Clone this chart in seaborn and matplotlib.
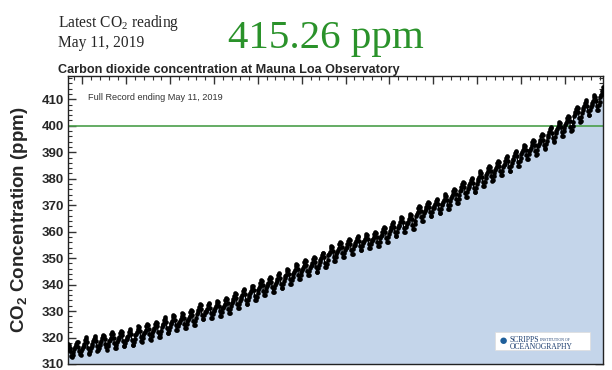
import numpy as np
import pandas as pd
import matplotlib
matplotlib.use("Agg")
import matplotlib.pyplot as plt
import seaborn as sns
from matplotlib.ticker import MultipleLocator
from matplotlib.patches import Rectangle

# Monthly CO2 (ppm), Mauna Loa record
start_month = "1958-03"
co2_1950s = [315.71, 317.45, 317.50, 317.10, 315.86, 314.93, 313.20, 312.66, 313.33, 314.67,
             315.62, 316.38, 316.71, 317.72, 318.29, 318.15, 316.54, 314.80, 313.84, 313.26, 314.80, 315.58]
co2_1960s = [316.43, 316.97, 317.58, 319.02, 320.03, 319.59, 318.18, 315.91, 314.16, 313.83, 315.00, 316.19,
             316.93, 317.70, 318.54, 319.48, 320.58, 319.77, 318.57, 316.79, 314.80, 315.38, 316.10, 317.01,
             317.94, 318.56, 319.68, 320.63, 321.01, 320.55, 319.58, 317.40, 316.26, 315.42, 316.69, 317.69,
             318.74, 319.07, 319.86, 321.38, 322.25, 321.48, 319.74, 317.77, 316.21, 315.99, 317.12, 318.31,
             319.12, 319.67, 320.27, 321.62, 322.62, 322.17, 320.77, 318.62, 316.87, 316.62, 317.92, 319.07,
             319.54, 320.09, 320.69, 322.04, 323.04, 322.59, 321.19, 319.04, 317.29, 317.04, 318.34, 319.49,
             320.87, 321.42, 322.02, 323.37, 324.37, 323.92, 322.52, 320.37, 318.62, 318.37, 319.67, 320.82,
             321.68, 322.23, 322.83, 324.18, 325.18, 324.73, 323.33, 321.18, 319.43, 319.18, 320.48, 321.63,
             322.55, 323.10, 323.70, 325.05, 326.05, 325.60, 324.20, 322.05, 320.30, 320.05, 321.35, 322.50,
             324.12, 324.67, 325.27, 326.62, 327.62, 327.17, 325.77, 323.62, 321.87, 321.62, 322.92, 324.07]
co2_1970s = [324.98, 325.63, 326.33, 327.68, 328.48, 328.13, 326.63, 324.58, 322.88, 322.83, 324.33, 325.58,
             325.62, 326.27, 326.97, 328.32, 329.12, 328.77, 327.27, 325.22, 323.52, 323.47, 324.97, 326.22,
             326.76, 327.41, 328.11, 329.46, 330.26, 329.91, 328.41, 326.36, 324.66, 324.61, 326.11, 327.36,
             328.98, 329.63, 330.33, 331.68, 332.48, 332.13, 330.63, 328.58, 326.88, 326.83, 328.33, 329.58,
             329.49, 330.14, 330.84, 332.19, 332.99, 332.64, 331.14, 329.09, 327.39, 327.34, 328.84, 330.09,
             330.42, 331.07, 331.77, 333.12, 333.92, 333.57, 332.07, 330.02, 328.32, 328.27, 329.77, 331.02,
             331.33, 331.98, 332.68, 334.03, 334.83, 334.48, 332.98, 330.93, 329.23, 329.18, 330.68, 331.93,
             333.14, 333.79, 334.49, 335.84, 336.64, 336.29, 334.79, 332.74, 331.04, 330.99, 332.49, 333.74,
             334.71, 335.36, 336.06, 337.41, 338.21, 337.86, 336.36, 334.31, 332.61, 332.56, 334.06, 335.31,
             336.14, 336.79, 337.49, 338.84, 339.64, 339.29, 337.79, 335.74, 334.04, 333.99, 335.49, 336.74]
co2_1980s = [338.06, 338.71, 339.41, 340.76, 341.56, 341.21, 339.71, 337.66, 335.96, 335.91, 337.41, 338.66,
             339.42, 340.07, 340.77, 342.12, 342.92, 342.57, 341.07, 339.02, 337.32, 337.27, 338.77, 340.02,
             340.78, 341.43, 342.13, 343.48, 344.28, 343.93, 342.43, 340.38, 338.68, 338.63, 340.13, 341.38,
             342.45, 343.10, 343.80, 345.15, 345.95, 345.60, 344.10, 342.05, 340.35, 340.30, 341.80, 343.05,
             344.17, 344.82, 345.52, 346.87, 347.67, 347.32, 345.82, 343.77, 342.07, 342.02, 343.52, 344.77,
             345.65, 346.30, 347.00, 348.35, 349.15, 348.80, 347.30, 345.25, 343.55, 343.50, 345.00, 346.25,
             346.91, 347.56, 348.26, 349.61, 350.41, 350.06, 348.56, 346.51, 344.81, 344.76, 346.26, 347.51,
             348.61, 349.26, 349.96, 351.31, 352.11, 351.76, 350.26, 348.21, 346.51, 346.46, 347.96, 349.21,
             350.99, 351.64, 352.34, 353.69, 354.49, 354.14, 352.64, 350.59, 348.89, 348.84, 350.34, 351.59,
             352.50, 353.15, 353.85, 355.20, 356.00, 355.65, 354.15, 352.10, 350.40, 350.35, 351.85, 353.10]
co2_1990s = [353.70, 354.35, 355.20, 356.45, 357.20, 356.75, 355.25, 353.20, 351.65, 351.70, 353.35, 354.70,
             354.95, 355.60, 356.45, 357.70, 358.45, 358.00, 356.50, 354.45, 352.90, 352.95, 354.60, 355.95,
             355.79, 356.44, 357.29, 358.54, 359.29, 358.84, 357.34, 355.29, 353.74, 353.79, 355.44, 356.79,
             356.46, 357.11, 357.96, 359.21, 359.96, 359.51, 358.01, 355.96, 354.41, 354.46, 356.11, 357.46,
             358.21, 358.86, 359.71, 360.96, 361.71, 361.26, 359.76, 357.71, 356.16, 356.21, 357.86, 359.21,
             360.22, 360.87, 361.72, 362.97, 363.72, 363.27, 361.77, 359.72, 358.17, 358.22, 359.87, 361.22,
             361.99, 362.64, 363.49, 364.74, 365.49, 365.04, 363.54, 361.49, 359.94, 359.99, 361.64, 362.99,
             363.13, 363.78, 364.63, 365.88, 366.63, 366.18, 364.68, 362.63, 361.08, 361.13, 362.78, 364.13,
             366.09, 366.74, 367.59, 368.84, 369.59, 369.14, 367.64, 365.59, 364.04, 364.09, 365.74, 367.09,
             367.79, 368.44, 369.29, 370.54, 371.29, 370.84, 369.34, 367.29, 365.74, 365.79, 367.44, 368.79]
co2_2000s = [368.96, 369.61, 370.46, 371.71, 372.46, 372.01, 370.51, 368.46, 366.91, 366.96, 368.61, 369.96,
             370.57, 371.22, 372.07, 373.32, 374.07, 373.62, 372.12, 370.07, 368.52, 368.57, 370.22, 371.57,
             372.70, 373.35, 374.20, 375.45, 376.20, 375.75, 374.25, 372.20, 370.65, 370.70, 372.35, 373.70,
             375.23, 375.88, 376.73, 377.98, 378.73, 378.28, 376.78, 374.73, 373.18, 373.23, 374.88, 376.23,
             376.95, 377.60, 378.45, 379.70, 380.45, 380.00, 378.50, 376.45, 374.90, 374.95, 376.60, 377.95,
             379.23, 379.88, 380.73, 381.98, 382.73, 382.28, 380.78, 378.73, 377.18, 377.23, 378.88, 380.23,
             381.34, 381.99, 382.84, 384.09, 384.84, 384.39, 382.89, 380.84, 379.29, 379.34, 380.99, 382.34,
             383.27, 383.92, 384.77, 386.02, 386.77, 386.32, 384.82, 382.77, 381.22, 381.27, 382.92, 384.27,
             385.08, 385.73, 386.58, 387.83, 388.58, 388.13, 386.63, 384.58, 383.03, 383.08, 384.73, 386.08,
             386.89, 387.54, 388.39, 389.64, 390.39, 389.94, 388.44, 386.39, 384.84, 384.89, 386.54, 387.89]
co2_2010s = [389.25, 389.95, 390.85, 392.10, 392.90, 392.40, 390.80, 388.80, 387.30, 387.50, 389.15, 390.45,
             391.00, 391.70, 392.60, 393.85, 394.65, 394.15, 392.55, 390.55, 389.05, 389.25, 390.90, 392.20,
             393.21, 393.91, 394.81, 396.06, 396.86, 396.36, 394.76, 392.76, 391.26, 391.46, 393.11, 394.41,
             395.89, 396.59, 397.49, 398.74, 399.54, 399.04, 397.44, 395.44, 393.94, 394.14, 395.79, 397.09,
             397.96, 398.66, 399.56, 400.81, 401.61, 401.11, 399.51, 397.51, 396.01, 396.21, 397.86, 399.16,
             400.16, 400.86, 401.76, 403.01, 403.81, 403.31, 401.71, 399.71, 398.21, 398.41, 400.06, 401.36,
             403.56, 404.26, 405.16, 406.41, 407.21, 406.71, 405.11, 403.11, 401.61, 401.81, 403.46, 404.76,
             405.91, 406.61, 407.51, 408.76, 409.56, 409.06, 407.46, 405.46, 403.96, 404.16, 405.81, 407.11,
             407.87, 408.57, 409.47, 410.72, 411.52, 411.02, 409.42, 407.42, 405.92, 406.12, 407.77, 409.07,
             410.83, 411.75, 411.97, 413.32, 414.66]

reference_level = 400
y_ticks = [310, 320, 330, 340, 350, 360, 370, 380, 390, 400, 410]
x_ticks = [1960, 1965, 1970, 1975, 1980, 1985, 1990, 1995, 2000, 2005, 2010, 2015]
latest_value = "415.26 ppm"
latest_date = "May 11, 2019"

values = np.array(co2_1950s + co2_1960s + co2_1970s + co2_1980s + co2_1990s + co2_2000s + co2_2010s)
dates = pd.date_range(start_month, periods=len(values), freq="MS")
decimal_year = dates.year + (dates.month - 0.5) / 12.0
df = pd.DataFrame({"year": decimal_year, "co2": values})

sns.set_style("ticks")
plt.rcParams["font.family"] = ["Liberation Sans", "DejaVu Sans"]
plt.rcParams["mathtext.default"] = "regular"

fig = plt.figure(figsize=(6.12, 3.70), dpi=100)
ax = fig.add_axes([68 / 612, 1 - 364 / 370, (603 - 68) / 612, (364 - 76) / 370])


def px(x, y):
    return x / 612, 1 - y / 370


ymin, ymax = 310, 418.8
ax.fill_between(df["year"], ymin, df["co2"], color="#c4d5ea", lw=0, zorder=1)
ax.axhline(reference_level, color="#4a9e4a", lw=1.2, zorder=2)
sns.lineplot(data=df, x="year", y="co2", ax=ax, color="black", lw=0.9, zorder=3)
sns.scatterplot(data=df, x="year", y="co2", ax=ax, color="black", s=11, linewidth=0, zorder=4)

ax.set_xlim(1958.35, 2019.35)
ax.set_ylim(ymin, ymax)
ax.set_xticks(x_ticks)
ax.set_xticklabels([])
ax.set_yticks(y_ticks)
ax.set_yticklabels([str(t) for t in y_ticks], fontweight="bold", fontsize=9.5)
ax.xaxis.set_minor_locator(MultipleLocator(1))
ax.yaxis.set_minor_locator(MultipleLocator(2))
ax.tick_params(which="both", direction="in", top=True, right=True, color="#333333")
ax.tick_params(which="major", length=6, width=1)
ax.tick_params(which="minor", length=3, width=0.8)
ax.tick_params(axis="y", pad=3)
for s in ax.spines.values():
    s.set_linewidth(1.0)
    s.set_color("#222222")
ax.set_xlabel("")
ax.set_ylabel("CO$_2$ Concentration (ppm)", fontsize=13.5, fontweight="bold")
ax.yaxis.set_label_coords(-0.071, 0.5)

fig.text(*px(88, 98), "Full Record ending " + latest_date, fontsize=6.6,
         color="#333333", va="center", ha="left")

# Scripps logo approximation
fig.patches.append(Rectangle(px(495, 350), 95 / 612, 18 / 370, transform=fig.transFigure,
                             facecolor="white", edgecolor="#dddddd", lw=0.5, zorder=5))
fig.text(*px(503, 341), "\u25CF", fontsize=11, color="#1f5f9a", ha="center", va="center", zorder=6)
fig.text(*px(510, 342), "SCRIPPS", fontsize=5.5, family="Liberation Serif", color="#1a3c6e",
         va="baseline", zorder=6)
fig.text(*px(540, 341), "INSTITUTION OF", fontsize=2.8, family="Liberation Serif", color="#1a3c6e",
         va="baseline", zorder=6)
fig.text(*px(510, 349), "OCEANOGRAPHY", fontsize=5.5, family="Liberation Serif", color="#1a3c6e",
         va="baseline", zorder=6)

# Header texts
fig.text(*px(58, 27), "Latest CO$_2$ reading", fontsize=11.2, family="Liberation Serif", va="baseline")
fig.text(*px(58, 47), latest_date, fontsize=11.2, family="Liberation Serif", va="baseline")
fig.text(*px(228, 48), latest_value, fontsize=29.5, family="Liberation Serif", color="#2a922a", va="baseline")
fig.text(*px(58, 73), "Carbon dioxide concentration at Mauna Loa Observatory", fontsize=9.1,
         fontweight="bold", va="baseline")

fig.savefig("out.png", dpi=100)
